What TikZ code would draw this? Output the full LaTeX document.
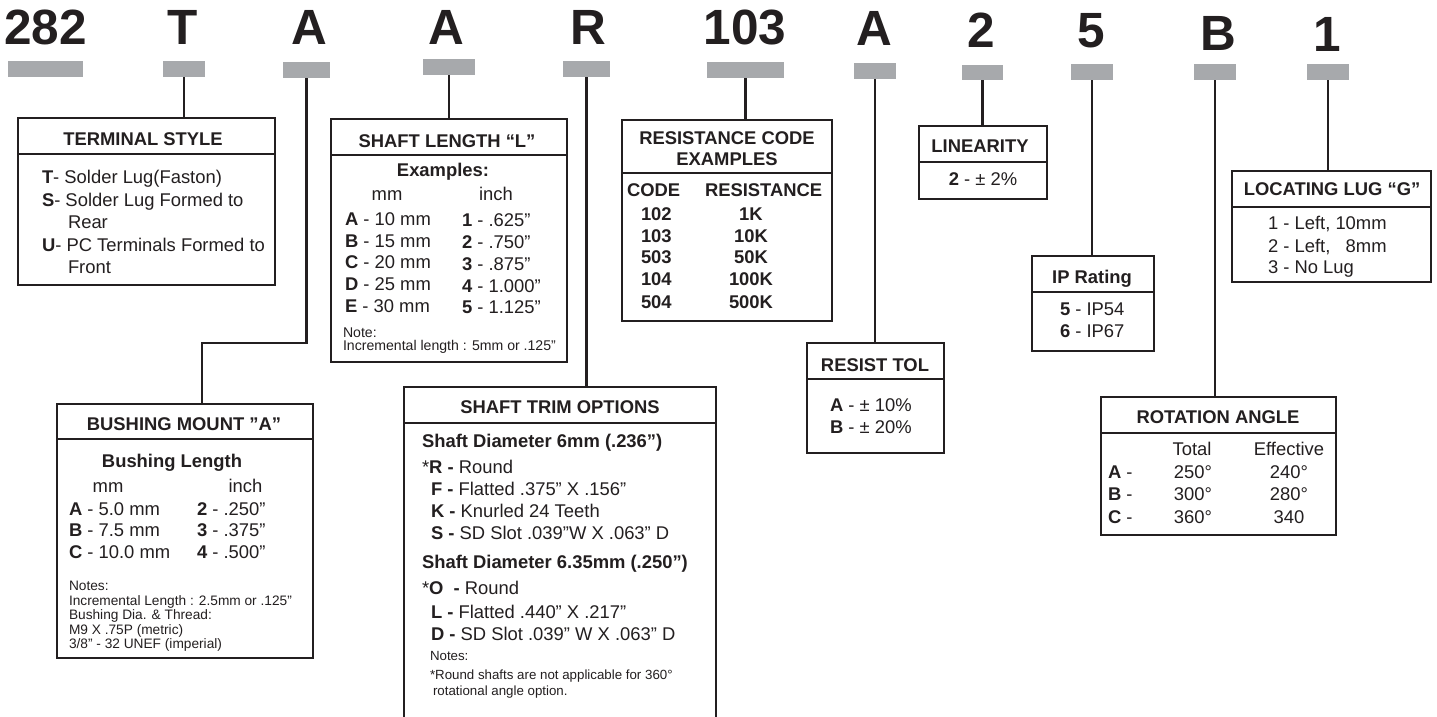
\documentclass[tikz,border=0pt]{standalone}
\usepackage{fontspec}
\setmainfont{Liberation Sans}
\definecolor{ink}{HTML}{231F20}
\definecolor{barg}{HTML}{A7A9AC}
\newcounter{tn}
\newcommand\Tw[4][txt]{\stepcounter{tn}\node[#1,anchor=base west] (w\arabic{tn}) at (#2,#3) {#4};}
\newcommand\Tc[4][txt]{\stepcounter{tn}\node[#1,anchor=base] (c\arabic{tn}) at (#2,#3) {#4};}
\newcommand\Bar[5]{\node[gbar,anchor=north west,minimum width={#4-#2},minimum height={#5-#3}] (#1) at (#2,#3) {};}
\newcommand\Frame[6]{\node[frame,anchor=north west,minimum width={#4-#2},minimum height={#5-#3}] (#1) at (#2,#3) {};\draw[rule] (#2,#6) -- (#4,#6);}
\tikzset{
 txt/.style={inner sep=0pt, outer sep=0pt, text=ink, font=\fontsize{18.4}{21}\selectfont},
 note/.style={txt, font=\fontsize{13.3}{15}\selectfont},
 noteL/.style={txt, font=\fontsize{14.1}{15}\selectfont},
 noteB/.style={txt, font=\fontsize{13.7}{15}\selectfont},
 big/.style={txt, font=\bfseries\fontsize{49.5}{50}\selectfont},
 gbar/.style={fill=barg, draw=none, inner sep=0pt, outer sep=0pt},
 frame/.style={draw=ink, line width=2.6pt, inner sep=0pt, outer sep=0pt},
 rule/.style={draw=ink, line width=2.6pt},
 link/.style={draw=ink, line width=2.4pt},
}
\begin{document}
\begin{tikzpicture}[x=1pt,y=-1pt]
\clip (0,0) rectangle (1437,717);
\fill[white] (0,0) rectangle (1437,717);
% big code letters
\Tc[big]{45.5}{45}{282}
\Tc[big]{183}{45}{T}
\Tc[big]{309.5}{45}{A}
\Tc[big]{446}{45}{A}
\Tc[big]{588}{45}{R}
\Tc[big]{745}{45}{103}
\Tc[big]{874.5}{46}{A}
\Tc[big]{981}{48}{2}
\Tc[big]{1091.5}{48}{5}
\Tc[big]{1218}{51}{B}
\Tc[big]{1327}{52}{1}
% bars
\Bar{b1}{8}{61}{83}{77}
\Bar{b2}{163}{61}{205}{77}
\Bar{b3}{283}{62}{330}{78}
\Bar{b4}{423}{59}{475}{75}
\Bar{b5}{563}{61}{610}{77}
\Bar{b6}{707}{62}{784}{78}
\Bar{b7}{854}{63}{896}{79}
\Bar{b8}{962}{65}{1003}{80}
\Bar{b9}{1071}{64}{1113}{80}
\Bar{b10}{1194}{64}{1236}{80}
\Bar{b11}{1307}{64}{1349}{80}
% frames
\Frame{ts}{18}{118}{275}{285}{154}
\Frame{bm}{57}{404}{313}{658}{439}
\Frame{sl}{331}{119}{567}{362}{155}
\Frame{st}{404}{387}{716}{740}{423}
\Frame{rc}{622}{120}{832}{321}{173}
\Frame{li}{919}{126}{1047}{199}{162}
\Frame{rt}{807}{343}{944}{453}{379}
\Frame{ip}{1032}{256}{1154}{351}{292}
\Frame{ll}{1232}{171}{1431}{282}{207}
\Frame{ra}{1101}{397}{1336}{535}{433}
% connectors
\draw[link] (b2.south) -- (b2.south |- ts.north);
\coordinate (k1) at (202,343);
\draw[link] (b3.south) |- (k1) -- (k1 |- bm.north);
\draw[link] (b4.south) -- (b4.south |- sl.north);
\draw[link] (b5.south) -- (b5.south |- st.north);
\draw[link] (b6.south) -- (b6.south |- rc.north);
\draw[link] (b7.south) -- (b7.south |- rt.north);
\draw[link] (b8.south) -- (b8.south |- li.north);
\draw[link] (b9.south) -- (b9.south |- ip.north);
\draw[link] (b10.south) -- (b10.south |- ra.north);
\draw[link] (b11.south) -- (b11.south |- ll.north);
% TERMINAL STYLE
\Tc{143}{145}{\bfseries TERMINAL STYLE}
\Tw{42}{183}{\textbf{T}- Solder Lug(Faston)}
\Tw{42}{206}{\textbf{S}- Solder Lug Formed to}
\Tw{68}{228}{Rear}
\Tw{42}{251}{\textbf{U}- PC Terminals Formed to}
\Tw{68}{273}{Front}
% SHAFT LENGTH
\Tc{447}{147}{\bfseries SHAFT LENGTH “L”}
\Tc{443}{176}{\bfseries Examples:}
\Tc{387}{200}{mm}
\Tc{496}{200}{inch}
\Tw{345}{225}{\textbf{A} - 10 mm}
\Tw{345}{247}{\textbf{B} - 15 mm}
\Tw{345}{268.5}{\textbf{C} - 20 mm}
\Tw{345}{290.5}{\textbf{D} - 25 mm}
\Tw{345}{312}{\textbf{E} - 30 mm}
\Tw{462}{226.5}{\textbf{1} - .625”}
\Tw{462}{248.5}{\textbf{2} - .750”}
\Tw{462}{270}{\textbf{3} - .875”}
\Tw{462}{292}{\textbf{4} - 1.000”}
\Tw{462}{313.5}{\textbf{5} - 1.125”}
\Tw[noteL]{343}{337}{Note:}
\Tw[noteL]{343}{350}{Incremental length : 5mm or .125”}
% BUSHING MOUNT
\Tc{184}{430}{\bfseries BUSHING MOUNT ”A”}
\Tc{172}{467}{\bfseries Bushing Length}
\Tc{108}{492}{mm}
\Tc{245.5}{492}{inch}
\Tw{69}{515}{\textbf{A} - 5.0 mm}
\Tw{69}{536}{\textbf{B} - 7.5 mm}
\Tw{69}{558}{\textbf{C} - 10.0 mm}
\Tw{197}{515}{\textbf{2} - .250”}
\Tw{197}{536}{\textbf{3} - .375”}
\Tw{197}{558}{\textbf{4} - .500”}
\Tw[noteB]{69}{590}{Notes:}
\Tw[noteB]{69}{605}{Incremental Length : 2.5mm or .125”}
\Tw[noteB]{69}{619}{Bushing Dia. \& Thread:}
\Tw[noteB]{69}{634}{M9 X .75P (metric)}
\Tw[noteB]{69}{648}{3/8” - 32 UNEF (imperial)}
% SHAFT TRIM OPTIONS
\Tc{560}{413}{\bfseries SHAFT TRIM OPTIONS}
\Tw{422}{447}{\bfseries Shaft Diameter 6mm (.236”)}
\Tw{422}{473}{*\textbf{R -} Round}
\Tw{431}{495}{\textbf{F -} Flatted .375” X .156”}
\Tw{431}{517}{\textbf{K -} Knurled 24 Teeth}
\Tw{431}{539}{\textbf{S -} SD Slot .039”W X .063” D}
\Tw{422}{568}{\bfseries Shaft Diameter 6.35mm (.250”)}
\Tw{422}{594}{*\textbf{O\ \ -} Round}
\Tw{431}{618}{\textbf{L -} Flatted .440” X .217”}
\Tw{431}{640}{\textbf{D -} SD Slot .039” W X .063” D}
\Tw[note]{430}{660}{Notes:}
\Tw[note]{430}{679}{*Round shafts are not applicable for 360°}
\Tw[note]{433}{695}{rotational angle option.}
% RESISTANCE CODE
\Tc{727}{144}{\bfseries RESISTANCE CODE}
\Tc{727}{165}{\bfseries EXAMPLES}
\Tw{627}{196}{\bfseries CODE}
\Tw{705}{196}{\bfseries RESISTANCE}
\Tw{641}{220}{\bfseries 102}
\Tw{641}{242}{\bfseries 103}
\Tw{641}{263}{\bfseries 503}
\Tw{641}{285}{\bfseries 104}
\Tw{641}{308}{\bfseries 504}
\Tc{751}{220}{\bfseries 1K}
\Tc{751}{242}{\bfseries 10K}
\Tc{751}{263}{\bfseries 50K}
\Tc{751}{285}{\bfseries 100K}
\Tc{751}{308}{\bfseries 500K}
% LINEARITY
\Tc{980}{152}{\bfseries LINEARITY}
\Tc{983}{185}{\textbf{2} - ± 2\%}
% RESIST TOL
\Tc{875}{371}{\bfseries RESIST TOL}
\Tw{830}{411}{\textbf{A} - ± 10\%}
\Tw{830}{433}{\textbf{B} - ± 20\%}
% IP RATING
\Tc{1092}{283}{\bfseries IP Rating}
\Tw{1060}{315}{\textbf{5} - IP54}
\Tw{1060}{337}{\textbf{6} - IP67}
% LOCATING LUG
\Tc{1332}{195}{\bfseries LOCATING LUG “G”}
\Tw{1268}{229}{1 - Left, 10mm}
\Tw{1268}{252}{2 - Left,\ \ \ 8mm}
\Tw{1268}{273}{3 - No Lug}
% ROTATION ANGLE
\Tc{1218}{423}{\bfseries ROTATION ANGLE}
\Tc{1192}{455}{Total}
\Tc{1289}{455}{Effective}
\Tw{1108}{478}{\textbf{A} -}
\Tw{1108}{500}{\textbf{B} -}
\Tw{1108}{523}{\textbf{C} -}
\Tc{1193}{478}{250°}
\Tc{1193}{500}{300°}
\Tc{1193}{523}{360°}
\Tc{1289}{478}{240°}
\Tc{1289}{500}{280°}
\Tc{1289}{523}{340}
\end{tikzpicture}
\end{document}
